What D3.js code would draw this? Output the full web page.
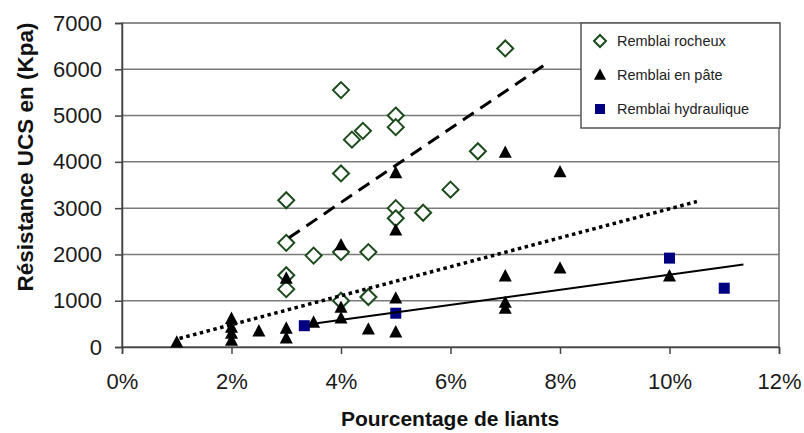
<!DOCTYPE html>
<html><head><meta charset="utf-8">
<script src="https://cdn.jsdelivr.net/npm/d3@7"></script>
<style>
html,body{margin:0;padding:0;background:#fff;}
svg{display:block;font-family:Arial,"Liberation Sans",sans-serif;}
</style></head>
<body><svg id="c" width="804" height="433"></svg>
<script>
// Data (binder % , UCS kPa)
const rocheux = [[3,3170],[3,2250],[3,1550],[3,1250],[3.5,1975],[4,5550],[4,3750],[4,2050],[4,1000],[4.2,4480],[4.4,4670],[4.5,2050],[4.5,1080],[5,5000],[5,4750],[5,3000],[5,2780],[5.5,2900],[6,3400],[6.5,4230],[7,6450]];
const pate = [[1,100],[2,610],[2,420],[2,290],[2,140],[2.5,340],[3,1480],[3,400],[3,190],[3.5,530],[4,2200],[4,850],[4,620],[4.5,380],[5,3760],[5,2520],[5,1050],[5,320],[7,4200],[7,1530],[7,960],[7,830],[8,3780],[8,1700],[10,1530]];
const hydraulique = [[3.33,460],[5,730],[10,1920],[11,1270]];
// Trend lines: [x start %, x end %, slope per %, intercept]
const trendRocheux = [3.05, 7.78, 800, -78];
const trendPate = [1.05, 10.5, 313, -144];
const trendHydraulique = [3.42, 11.35, 163, -68];
const xTicks = [0,2,4,6,8,10,12];
const yTicks = [0,1000,2000,3000,4000,5000,6000,7000];
const legendLabels = ["Remblai rocheux","Remblai en pâte","Remblai hydraulique"];

const svg = d3.select("#c");
const L=122, R=779, T=23, B=347;
const x = d3.scaleLinear().domain([0,12]).range([L,R]);
const y = d3.scaleLinear().domain([0,7000]).range([B,T]);

// gridlines
svg.append("g").selectAll("line").data(yTicks.filter(d=>d>0&&d<7000)).join("line")
  .attr("x1",L).attr("x2",R).attr("y1",d=>y(d)).attr("y2",d=>y(d))
  .attr("stroke","#7a7a7a").attr("stroke-width",1.5);
// frame
svg.append("rect").attr("x",L).attr("y",T).attr("width",R-L).attr("height",B-T)
  .attr("fill","none").attr("stroke","#6a6a6a").attr("stroke-width",1.5);

// axes
const yAxis = svg.append("g").attr("transform",`translate(${L},0)`)
  .call(d3.axisLeft(y).tickValues(yTicks).tickSize(7).tickPadding(13).tickFormat(d3.format("d")));
const xAxis = svg.append("g").attr("transform",`translate(0,${B})`)
  .call(d3.axisBottom(x).tickValues(xTicks).tickSize(7).tickPadding(19).tickFormat(d=>d+"%"));
[yAxis,xAxis].forEach(a=>{
  a.select(".domain").attr("stroke","#444").attr("stroke-width",1.5);
  a.selectAll(".tick line").attr("stroke","#444").attr("stroke-width",1.5);
  a.selectAll("text").attr("fill","#1a1a1a").style("font-size","22px").style("font-family","Arial, 'Liberation Sans', sans-serif");
});

// titles
svg.append("text").attr("transform","translate(33,157) rotate(-90)").attr("text-anchor","middle")
  .style("font-size","22.5px").style("font-weight","bold").attr("fill","#111").text("Résistance UCS en (Kpa)");
svg.append("text").attr("x",450).attr("y",426).attr("text-anchor","middle")
  .style("font-size","21px").style("font-weight","bold").attr("fill","#111").text("Pourcentage de liants");

// markers
const diamond = (cx,cy,r)=>`M${cx},${cy-r}L${cx+r},${cy}L${cx},${cy+r}L${cx-r},${cy}Z`;
const tri = (cx,cy,s)=>`M${cx},${cy-s*0.55}L${cx+s/2},${cy+s*0.4}L${cx-s/2},${cy+s*0.4}Z`;

svg.append("g").selectAll("path").data(rocheux).join("path")
  .attr("d",d=>diamond(x(d[0]),y(d[1]),8))
  .attr("fill","#fff").attr("stroke","#1b4a1b").attr("stroke-width",2);
svg.append("g").selectAll("path").data(pate).join("path")
  .attr("d",d=>tri(x(d[0]),y(d[1]),13)).attr("fill","#000");
svg.append("g").selectAll("rect").data(hydraulique).join("rect")
  .attr("x",d=>x(d[0])-5.5).attr("y",d=>y(d[1])-5.5).attr("width",11).attr("height",11)
  .attr("fill","#000080");

// trend lines
function trend(t, dash, w){
  const pts=[t[0],t[1]].map(v=>[v, t[2]*v+t[3]]);
  svg.append("line").attr("x1",x(pts[0][0])).attr("y1",y(pts[0][1]))
    .attr("x2",x(pts[1][0])).attr("y2",y(pts[1][1]))
    .attr("stroke","#000").attr("stroke-width",w).attr("stroke-dasharray",dash);
}
trend(trendRocheux,"13,8",3);
trend(trendPate,"3.5,3.5",3.5);
trend(trendHydraulique,null,2);

// legend
const lg = svg.append("g");
lg.append("rect").attr("x",581).attr("y",23).attr("width",199).attr("height",105)
  .attr("fill","#fff").attr("stroke","#555").attr("stroke-width",1.5);
const ly=[41,75,109];
lg.append("path").attr("d",diamond(600,ly[0],6)).attr("fill","#fff").attr("stroke","#1b4a1b").attr("stroke-width",2);
lg.append("path").attr("d",tri(600,ly[1],12)).attr("fill","#000");
lg.append("rect").attr("x",595).attr("y",ly[2]-5).attr("width",10).attr("height",10).attr("fill","#000080");
lg.selectAll("text").data(legendLabels).join("text")
  .attr("x",617).attr("y",(d,i)=>ly[i]+5).style("font-size","14.5px").attr("fill","#222").text(d=>d);
</script></body></html>
